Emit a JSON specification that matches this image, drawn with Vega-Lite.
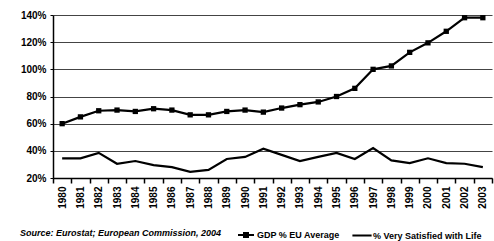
{
  "$schema": "https://vega.github.io/schema/vega-lite/v6.json",
  "width": 439,
  "height": 163,
  "autosize": {"type": "none"},
  "padding": {"left": 53, "top": 15, "right": 2, "bottom": 63},
  "config": {"font": "Liberation Sans", "view": {"stroke": null}},
  "title": {"text": "Source: Eurostat; European Commission, 2004", "orient": "bottom", "anchor": "start", "frame": "group", "fontSize": 9, "fontStyle": "italic", "fontWeight": "bold", "color": "black", "dx": -33, "offset": -12},
  "data": {"values": [
    {"year": "1980", "series": "GDP % EU Average", "value": 60},
    {"year": "1981", "series": "GDP % EU Average", "value": 65},
    {"year": "1982", "series": "GDP % EU Average", "value": 69.5},
    {"year": "1983", "series": "GDP % EU Average", "value": 70},
    {"year": "1984", "series": "GDP % EU Average", "value": 69},
    {"year": "1985", "series": "GDP % EU Average", "value": 71},
    {"year": "1986", "series": "GDP % EU Average", "value": 70},
    {"year": "1987", "series": "GDP % EU Average", "value": 66.5},
    {"year": "1988", "series": "GDP % EU Average", "value": 66.5},
    {"year": "1989", "series": "GDP % EU Average", "value": 69},
    {"year": "1990", "series": "GDP % EU Average", "value": 70},
    {"year": "1991", "series": "GDP % EU Average", "value": 68.5},
    {"year": "1992", "series": "GDP % EU Average", "value": 71.5},
    {"year": "1993", "series": "GDP % EU Average", "value": 74},
    {"year": "1994", "series": "GDP % EU Average", "value": 76},
    {"year": "1995", "series": "GDP % EU Average", "value": 80},
    {"year": "1996", "series": "GDP % EU Average", "value": 86},
    {"year": "1997", "series": "GDP % EU Average", "value": 100},
    {"year": "1998", "series": "GDP % EU Average", "value": 102.5},
    {"year": "1999", "series": "GDP % EU Average", "value": 112.5},
    {"year": "2000", "series": "GDP % EU Average", "value": 119.5},
    {"year": "2001", "series": "GDP % EU Average", "value": 128},
    {"year": "2002", "series": "GDP % EU Average", "value": 138},
    {"year": "2003", "series": "GDP % EU Average", "value": 138},
    {"year": "1980", "series": "% Very Satisfied with Life", "value": 34.5},
    {"year": "1981", "series": "% Very Satisfied with Life", "value": 34.5},
    {"year": "1982", "series": "% Very Satisfied with Life", "value": 38.5},
    {"year": "1983", "series": "% Very Satisfied with Life", "value": 30.5},
    {"year": "1984", "series": "% Very Satisfied with Life", "value": 32.5},
    {"year": "1985", "series": "% Very Satisfied with Life", "value": 29.5},
    {"year": "1986", "series": "% Very Satisfied with Life", "value": 28},
    {"year": "1987", "series": "% Very Satisfied with Life", "value": 24.5},
    {"year": "1988", "series": "% Very Satisfied with Life", "value": 26},
    {"year": "1989", "series": "% Very Satisfied with Life", "value": 34},
    {"year": "1990", "series": "% Very Satisfied with Life", "value": 35.5},
    {"year": "1991", "series": "% Very Satisfied with Life", "value": 41.5},
    {"year": "1992", "series": "% Very Satisfied with Life", "value": 37},
    {"year": "1993", "series": "% Very Satisfied with Life", "value": 32.5},
    {"year": "1994", "series": "% Very Satisfied with Life", "value": 35.5},
    {"year": "1995", "series": "% Very Satisfied with Life", "value": 38.5},
    {"year": "1996", "series": "% Very Satisfied with Life", "value": 34},
    {"year": "1997", "series": "% Very Satisfied with Life", "value": 42},
    {"year": "1998", "series": "% Very Satisfied with Life", "value": 33},
    {"year": "1999", "series": "% Very Satisfied with Life", "value": 31},
    {"year": "2000", "series": "% Very Satisfied with Life", "value": 34.5},
    {"year": "2001", "series": "% Very Satisfied with Life", "value": 31},
    {"year": "2002", "series": "% Very Satisfied with Life", "value": 30.5},
    {"year": "2003", "series": "% Very Satisfied with Life", "value": 28}
  ]},
  "encoding": {
    "x": {"field": "year", "type": "ordinal",
      "scale": {"type": "band", "paddingInner": 0, "paddingOuter": 0},
      "axis": {"title": null, "labelAngle": -90, "tickBand": "extent", "grid": false, "domainColor": "black", "domainWidth": 1.5, "tickColor": "black", "tickWidth": 1.5, "tickSize": 5, "labelPadding": 3, "labelFontSize": 10, "labelFontWeight": "bold", "labelColor": "black"}},
    "y": {"field": "value", "type": "quantitative",
      "scale": {"domain": [20, 140], "nice": false, "zero": false},
      "axis": {"title": null, "values": [20, 40, 60, 80, 100, 120, 140], "labelExpr": "datum.value + '%'", "grid": true, "gridColor": "#444444", "gridWidth": 1, "gridOpacity": 1, "domainColor": "black", "domainWidth": 1.5, "tickColor": "black", "tickSize": 3, "labelPadding": 4, "labelFontSize": 10, "labelFontWeight": "bold", "labelColor": "black"}}
  },
  "layer": [
    {"mark": {"type": "line", "color": "black", "strokeWidth": 2.2}, "encoding": {"detail": {"field": "series"}}},
    {"transform": [{"filter": "datum.series === 'GDP % EU Average'"}],
     "mark": {"type": "point", "shape": "square", "filled": true, "color": "black", "size": 28, "opacity": 1}},
    {"mark": {"type": "point", "filled": false, "color": "black"},
     "encoding": {
       "opacity": {"value": 0},
       "shape": {"field": "series", "type": "nominal",
         "scale": {"domain": ["GDP % EU Average", "% Very Satisfied with Life"], "range": ["M-1,0H1M-0.25,-0.25H0.25V0.25H-0.25Z", "M-1.2,0H1.2"]},
         "legend": {"title": null, "orient": "none", "legendX": 184, "legendY": 211, "direction": "horizontal", "columnPadding": 8, "symbolSize": 256, "symbolStrokeColor": "black", "symbolFillColor": "black", "symbolStrokeWidth": 2, "symbolOpacity": 1, "labelFontSize": 9, "labelFontWeight": "bold", "labelColor": "black", "labelOffset": 2}}
     }}
  ]
}
